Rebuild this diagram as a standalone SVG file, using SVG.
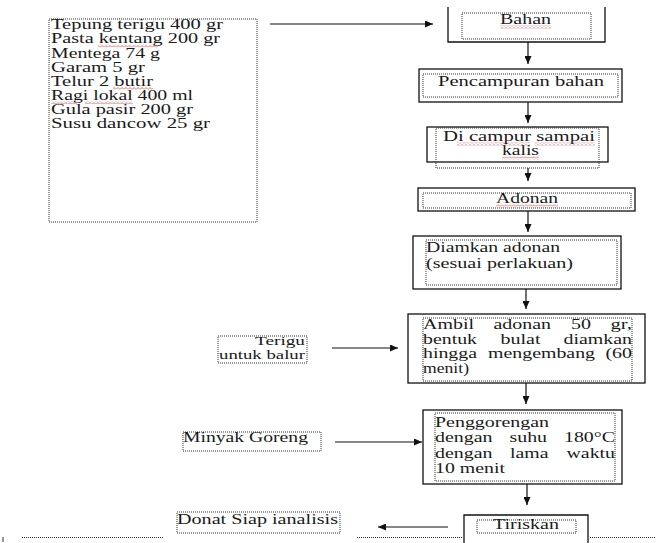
<svg xmlns="http://www.w3.org/2000/svg" width="656" height="543" viewBox="0 0 656 543">
<defs>
<style>
.outer{fill:#fff;stroke:#111;stroke-width:1.3}
.inner{fill:none;stroke:#333;stroke-width:1;stroke-dasharray:1 1}
.t{font-family:"Liberation Serif","Times New Roman",serif;font-size:14px;fill:#1a1a1a}
.s{font-size:12px}
.c{stroke:#111;stroke-width:1.2;fill:none}
.dl{stroke:#333;stroke-width:1;stroke-dasharray:1 1;fill:none}
</style>
<marker id="ah" markerUnits="userSpaceOnUse" markerWidth="9" markerHeight="7" refX="8" refY="3.5" orient="auto">
<path d="M0,0 L8,3.5 L0,7 z" fill="#111"/>
</marker>
<pattern id="wave" width="4" height="3" patternUnits="userSpaceOnUse">
<path d="M0,2.5 L2,0.5 L4,2.5" fill="none" stroke="#d44" stroke-width="0.8"/>
</pattern>
</defs>
<rect width="656" height="543" fill="#fff"/>

<g id="bottom-line">
<path class="dl" d="M22,537.5 H163 M357,537.5 H463 M590,537.5 H656"/>
<path d="M3,537 V542" stroke="#333" stroke-width="1"/>
</g>

<g id="connectors">
<line class="c" x1="270" y1="24" x2="433" y2="24" marker-end="url(#ah)"/>
<line class="c" x1="528" y1="42" x2="528" y2="64" marker-end="url(#ah)"/>
<line class="c" x1="528" y1="102" x2="528" y2="123" marker-end="url(#ah)"/>
<line class="c" x1="528" y1="168" x2="528" y2="181" marker-end="url(#ah)"/>
<line class="c" x1="528" y1="211" x2="528" y2="232" marker-end="url(#ah)"/>
<line class="c" x1="526" y1="289" x2="526" y2="309" marker-end="url(#ah)"/>
<line class="c" x1="332" y1="348" x2="398" y2="348" marker-end="url(#ah)"/>
<line class="c" x1="526" y1="383" x2="526" y2="404" marker-end="url(#ah)"/>
<line class="c" x1="335" y1="442" x2="422" y2="442" marker-end="url(#ah)"/>
<line class="c" x1="527" y1="484" x2="527" y2="505" marker-end="url(#ah)"/>
<line class="c" x1="448" y1="527" x2="378" y2="527" marker-end="url(#ah)"/>
</g>

<g id="bahan-list">
<rect class="inner" x="49" y="19" width="208" height="203"/>
<text class="t" x="51" y="29" textLength="172" lengthAdjust="spacingAndGlyphs">Tepung terigu 400 gr</text>
<text class="t" x="51" y="43" textLength="169" lengthAdjust="spacingAndGlyphs">Pasta kentang 200 gr</text>
<text class="t" x="51" y="57.5" textLength="109" lengthAdjust="spacingAndGlyphs">Mentega 74 g</text>
<text class="t" x="51" y="71.5" textLength="94" lengthAdjust="spacingAndGlyphs">Garam 5 gr</text>
<text class="t" x="51" y="85.5" textLength="102" lengthAdjust="spacingAndGlyphs">Telur 2 butir</text>
<text class="t" x="51" y="99.5" textLength="142" lengthAdjust="spacingAndGlyphs">Ragi lokal 400 ml</text>
<text class="t" x="51" y="113.5" textLength="142" lengthAdjust="spacingAndGlyphs">Gula pasir 200 gr</text>
<text class="t" x="51" y="128" textLength="159" lengthAdjust="spacingAndGlyphs">Susu dancow 25 gr</text>
<rect x="98" y="44.5" width="60" height="3" fill="url(#wave)"/>
<rect x="113" y="87" width="40" height="3" fill="url(#wave)"/>
<rect x="51" y="101" width="26" height="3" fill="url(#wave)"/>
<rect x="85" y="101" width="48" height="3" fill="url(#wave)"/>
</g>

<g id="bahan">
<path d="M448,7 V42 H605 V7" fill="#fff" stroke="#111" stroke-width="1.3"/>
<rect class="inner" x="462" y="13" width="129" height="26"/>
<text class="t" x="500" y="24" textLength="51" lengthAdjust="spacingAndGlyphs">Bahan</text>
<rect x="500" y="25.5" width="51" height="3" fill="url(#wave)"/>
</g>

<g id="pencampuran">
<rect class="outer" x="419" y="69" width="203" height="33"/>
<rect class="inner" x="423" y="74" width="195" height="23"/>
<text class="t" x="438" y="86" textLength="166" lengthAdjust="spacingAndGlyphs">Pencampuran bahan</text>
</g>

<g id="dicampur">
<rect class="outer" x="427" y="127" width="181" height="35"/>
<rect class="inner" x="436" y="128" width="163" height="40"/>
<text class="t" x="443" y="141" textLength="152" lengthAdjust="spacingAndGlyphs">Di campur sampai</text>
<text class="t" x="502" y="155" textLength="37" lengthAdjust="spacingAndGlyphs">kalis</text>
<rect x="457" y="142.5" width="73" height="3" fill="url(#wave)"/>
<rect x="535" y="142.5" width="60" height="3" fill="url(#wave)"/>
<rect x="502" y="156.5" width="37" height="3" fill="url(#wave)"/>
</g>

<g id="adonan">
<rect class="outer" x="418" y="188" width="217" height="23"/>
<rect class="inner" x="423" y="193" width="208" height="15"/>
<text class="t" x="496" y="203" textLength="62" lengthAdjust="spacingAndGlyphs">Adonan</text>
<rect x="496" y="204.5" width="62" height="3" fill="url(#wave)"/>
</g>

<g id="diamkan">
<rect class="outer" x="413" y="236" width="208" height="53"/>
<rect class="inner" x="426" y="240" width="191" height="45"/>
<text class="t" x="426" y="252" textLength="134" lengthAdjust="spacingAndGlyphs">Diamkan adonan</text>
<text class="t" x="426" y="268" textLength="147" lengthAdjust="spacingAndGlyphs">(sesuai perlakuan)</text>
</g>

<g id="terigu">
<rect class="inner" x="218" y="336" width="89" height="27"/>
<text class="t s" x="255" y="345" textLength="50" lengthAdjust="spacingAndGlyphs">Terigu</text>
<text class="t s" x="219" y="359" textLength="86" lengthAdjust="spacingAndGlyphs">untuk balur</text>
</g>

<g id="ambil">
<rect class="outer" x="408" y="314" width="237" height="69"/>
<rect class="inner" x="423" y="318" width="209" height="63"/>
<text class="t" x="423" y="329" textLength="51" lengthAdjust="spacingAndGlyphs">Ambil</text>
<text class="t" x="493.5" y="329" textLength="57.5" lengthAdjust="spacingAndGlyphs">adonan</text>
<text class="t" x="571" y="329" textLength="20" lengthAdjust="spacingAndGlyphs">50</text>
<text class="t" x="610.5" y="329" textLength="21.5" lengthAdjust="spacingAndGlyphs">gr,</text>
<text class="t" x="423" y="343.5" textLength="54" lengthAdjust="spacingAndGlyphs">bentuk</text>
<text class="t" x="500.5" y="343.5" textLength="40" lengthAdjust="spacingAndGlyphs">bulat</text>
<text class="t" x="563.5" y="343.5" textLength="68.5" lengthAdjust="spacingAndGlyphs">diamkan</text>
<text class="t" x="423" y="358" textLength="54" lengthAdjust="spacingAndGlyphs">hingga</text>
<text class="t" x="488" y="358" textLength="107" lengthAdjust="spacingAndGlyphs">mengembang</text>
<text class="t" x="605.5" y="358" textLength="26.5" lengthAdjust="spacingAndGlyphs">(60</text>
<text class="t" x="423" y="372.5" textLength="46" lengthAdjust="spacingAndGlyphs">menit)</text>
</g>

<g id="minyak">
<rect class="inner" x="183" y="432" width="138" height="19"/>
<text class="t" x="183" y="442" textLength="125" lengthAdjust="spacingAndGlyphs">Minyak Goreng</text>
</g>

<g id="penggorengan">
<rect class="outer" x="423" y="410" width="199" height="74"/>
<rect class="inner" x="435" y="413" width="180" height="68"/>
<text class="t" x="435" y="427" textLength="114" lengthAdjust="spacingAndGlyphs">Penggorengan</text>
<text class="t" x="435" y="442" textLength="57.5" lengthAdjust="spacingAndGlyphs">dengan</text>
<text class="t" x="509.5" y="442" textLength="37.5" lengthAdjust="spacingAndGlyphs">suhu</text>
<text class="t" x="564" y="442" textLength="51" lengthAdjust="spacingAndGlyphs">180°C</text>
<text class="t" x="435" y="458" textLength="57.5" lengthAdjust="spacingAndGlyphs">dengan</text>
<text class="t" x="510" y="458" textLength="38.5" lengthAdjust="spacingAndGlyphs">lama</text>
<text class="t" x="566.5" y="458" textLength="48.5" lengthAdjust="spacingAndGlyphs">waktu</text>
<text class="t" x="435" y="473" textLength="70" lengthAdjust="spacingAndGlyphs">10 menit</text>
</g>

<g id="tiriskan">
<path d="M464,543 V515 H588 V543" fill="#fff" stroke="#111" stroke-width="1.3"/>
<rect class="inner" x="477" y="520" width="99" height="13"/>
<text class="t" x="493" y="529" textLength="66" lengthAdjust="spacingAndGlyphs">Tiriskan</text>
</g>

<g id="donat">
<rect class="inner" x="177" y="512" width="163" height="21"/>
<text class="t" x="177" y="524" textLength="161" lengthAdjust="spacingAndGlyphs">Donat Siap ianalisis</text>
</g>
</svg>
